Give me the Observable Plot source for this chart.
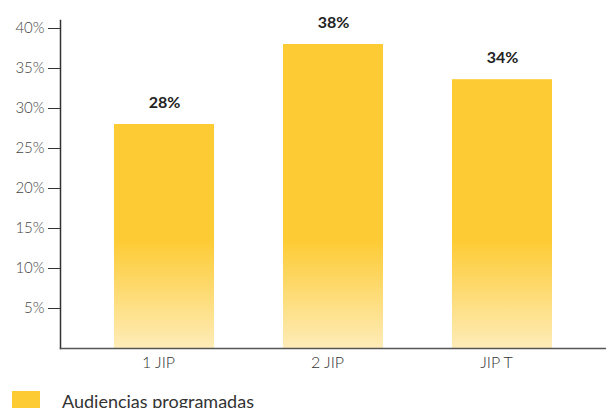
<!DOCTYPE html>
<html>
<head>
<meta charset="utf-8">
<script src="https://cdn.jsdelivr.net/npm/d3@7"></script>
<script src="https://cdn.jsdelivr.net/npm/@observablehq/plot@0.6"></script>
<style>
  html, body { margin: 0; padding: 0; background: #fff; }
  body { width: 606px; height: 408px; overflow: hidden; position: relative; font-family: Lato, "Noto Sans", sans-serif; }
  #legend { position: absolute; left: 12px; top: 391px; display: flex; align-items: flex-start; }
  #legend .sw { width: 28px; height: 20px; background: #fdcb33; }
  #legend .lb { margin-left: 22px; font-size: 18px; color: #333; line-height: 18px; margin-top: 1px; white-space: nowrap; }
</style>
</head>
<body>
<div id="chart"></div>
<div id="legend"><div class="sw"></div><div class="lb">Audiencias programadas</div></div>
<script>
const categories = ["1 JIP", "2 JIP", "JIP T"];
const values = [28, 38, 33.6];
const valueLabels = ["28%", "38%", "34%"];
const yTicks = [5, 10, 15, 20, 25, 30, 35, 40];
const seriesName = "Audiencias programadas";

const data = categories.map((c, i) => ({cat: c, v: values[i], label: valueLabels[i]}));

const chart = Plot.plot({
  width: 606,
  height: 376,
  marginLeft: 60,
  marginRight: 0,
  marginTop: 20,
  marginBottom: 28,
  style: {fontFamily: "Lato, 'Noto Sans', sans-serif", fontSize: "15px", color: "#333"},
  x: {domain: categories, paddingInner: 0.408, paddingOuter: 0.319, label: null},
  y: {domain: [0, 41], label: null},
  marks: [
    Plot.barY(data, {x: "cat", y: "v", fill: "url(#barGrad)"}),
    Plot.text(data, {x: "cat", y: "v", text: "label", dy: -22, fontWeight: "bold", fontSize: 16, fill: "#222"}),
    Plot.axisY({ticks: yTicks, tickFormat: d => d + "%", tickSize: 12, tickPadding: 4, fontSize: 15, fontWeight: 300, stroke: "#333", fill: "#444"}),
    Plot.axisX({tickSize: 0, tickPadding: 8, dx: -6, fontSize: 16, fontWeight: 300, fill: "#333"}),
    Plot.frame({anchor: "left", stroke: "#333", strokeWidth: 1.5}),
    Plot.frame({anchor: "bottom", stroke: "#555", strokeWidth: 1.5})
  ]
});

const svg = d3.select(chart);
const defs = svg.insert("defs", ":first-child");
const g = defs.append("linearGradient")
  .attr("id", "barGrad")
  .attr("gradientUnits", "userSpaceOnUse")
  .attr("x1", 0).attr("x2", 0).attr("y1", 240).attr("y2", 348);
g.append("stop").attr("offset", "0%").attr("stop-color", "#fdcb33");
g.append("stop").attr("offset", "100%").attr("stop-color", "#feecb8");

document.getElementById("chart").appendChild(chart);
</script>
</body>
</html>
